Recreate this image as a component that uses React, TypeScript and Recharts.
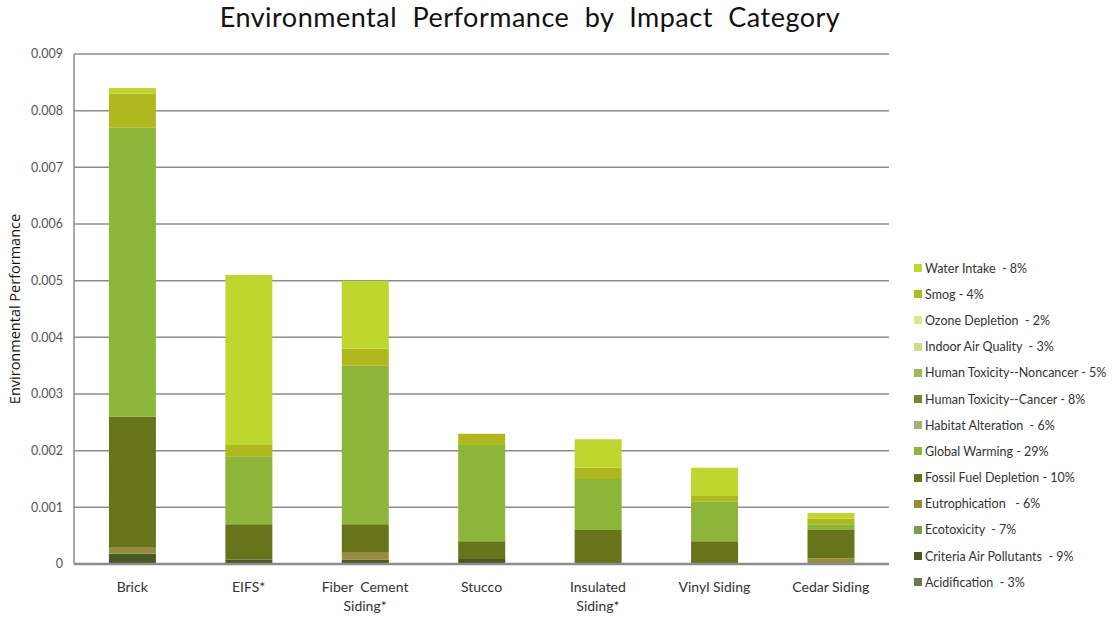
import React from 'react';
import { BarChart, Bar, XAxis, YAxis, CartesianGrid } from 'recharts';

const categories = ['Brick', 'EIFS*', 'Fiber Cement Siding*', 'Stucco', 'Insulated Siding*', 'Vinyl Siding', 'Cedar Siding'];
const tickLines = [['Brick'], ['EIFS*'], ['Fiber  Cement', 'Siding*'], ['Stucco'], ['Insulated', 'Siding*'], ['Vinyl Siding'], ['Cedar Siding']];
const yTicks = [0, 0.001, 0.002, 0.003, 0.004, 0.005, 0.006, 0.007, 0.008, 0.009];

// series values, in category order
const acidification = [0, 0, 0, 0, 0, 0, 0];
const criteriaAirPollutants = [0.00018, 0.00008, 0.00008, 0.00009, 0, 0, 0];
const ecotoxicity = [0, 0, 0, 0, 0, 0, 0];
const eutrophication = [0.00012, 0, 0.00012, 0, 0, 0, 0.0001];
const fossilFuelDepletion = [0.0023, 0.00062, 0.0005, 0.00031, 0.0006, 0.0004, 0.0005];
const globalWarming = [0.0051, 0.0012, 0.0028, 0.0017, 0.0009, 0.0007, 0.0001];
const habitatAlteration = [0, 0, 0, 0, 0, 0, 0];
const humanToxCancer = [0, 0, 0, 0, 0, 0, 0];
const humanToxNoncancer = [0, 0, 0, 0, 0, 0, 0];
const indoorAirQuality = [0, 0, 0, 0, 0, 0, 0];
const ozoneDepletion = [0, 0, 0, 0, 0, 0, 0];
const smog = [0.0006, 0.0002, 0.0003, 0.0002, 0.0002, 0.0001, 0.0001];
const waterIntake = [0.0001, 0.003, 0.0012, 0, 0.0005, 0.0005, 0.0001];

const series = [
  { key: 'acid', name: 'Acidification  - 3%', values: acidification, color: '#6a7a4c' },
  { key: 'crit', name: 'Criteria Air Pollutants  - 9%', values: criteriaAirPollutants, color: '#465a26' },
  { key: 'eco', name: 'Ecotoxicity  - 7%', values: ecotoxicity, color: '#7f9e48' },
  { key: 'eut', name: 'Eutrophication   - 6%', values: eutrophication, color: '#978b3f' },
  { key: 'ffd', name: 'Fossil Fuel Depletion - 10%', values: fossilFuelDepletion, color: '#687419' },
  { key: 'gw', name: 'Global Warming - 29%', values: globalWarming, color: '#8db53a' },
  { key: 'hab', name: 'Habitat Alteration  - 6%', values: habitatAlteration, color: '#a8ae78' },
  { key: 'htc', name: 'Human Toxicity--Cancer - 8%', values: humanToxCancer, color: '#6e8b2a' },
  { key: 'htn', name: 'Human Toxicity--Noncancer - 5%', values: humanToxNoncancer, color: '#9dbb5a' },
  { key: 'iaq', name: 'Indoor Air Quality  - 3%', values: indoorAirQuality, color: '#d4d88a' },
  { key: 'ozo', name: 'Ozone Depletion  - 2%', values: ozoneDepletion, color: '#dde882' },
  { key: 'smog', name: 'Smog - 4%', values: smog, color: '#b0b820' },
  { key: 'water', name: 'Water Intake  - 8%', values: waterIntake, color: '#bfd530' },
];

const data = categories.map((c, i) => {
  const row: any = { category: c, idx: i };
  series.forEach((s) => { row[s.key] = s.values[i]; });
  return row;
});

const FONT = 'Lato, "Open Sans", sans-serif';

const XTick = (props: any) => {
  const { x, y, index } = props;
  const lines = tickLines[index] || [];
  return (
    <text x={x} y={y + 20} textAnchor="middle" fill="#333" fontSize={14} fontFamily={FONT} style={{ whiteSpace: 'pre' }}>
      {lines.map((l, i) => (
        <tspan key={i} x={x} dy={i === 0 ? 0 : 19}>{l}</tspan>
      ))}
    </text>
  );
};

export default function App() {
  const legendItems = [...series].reverse();
  return (
    <div style={{ position: 'absolute', left: 0, top: 0, width: 1113, height: 619, background: '#fff' }}>
      <div style={{ position: 'absolute', left: 0, top: 0, width: 1060, textAlign: 'center', fontFamily: FONT, fontSize: 27, color: '#111', wordSpacing: 8, letterSpacing: 0.5 }}>
        Environmental Performance by Impact Category
      </div>
      <BarChart
        width={1113}
        height={619}
        data={data}
        margin={{ top: 54, right: 224, left: 14, bottom: 5 }}
        barCategoryGap="30%"
      >
        <CartesianGrid vertical={false} stroke="#8c8c8c" strokeWidth={1.5} />
        <XAxis
          dataKey="category"
          tickLine={false}
          axisLine={{ stroke: '#8c8c8c', strokeWidth: 2.5 }}
          tick={<XTick />}
          interval={0}
          height={50}
        />
        <YAxis
          domain={[0, 0.009]}
          ticks={yTicks}
          tickLine={false}
          axisLine={{ stroke: '#8c8c8c', strokeWidth: 1.5 }}
          width={60}
          tick={{ fill: '#555', fontSize: 12.5, fontFamily: FONT, dx: -3 }}
          tickFormatter={(v: number) => (v === 0 ? '0' : v.toFixed(3))}
          label={{ value: 'Environmental Performance', angle: -90, position: 'insideLeft', offset: 1, style: { textAnchor: 'middle', fontSize: 14.5, fontFamily: '"Open Sans", sans-serif', fill: '#111' } }}
        />
        {series.map((s) => (
          <Bar key={s.key} dataKey={s.key} name={s.name} stackId="a" fill={s.color} isAnimationActive={false} />
        ))}
      </BarChart>
      <div style={{ position: 'absolute', left: 914, top: 255, fontFamily: FONT, fontSize: 12.5, color: '#333' }}>
        {legendItems.map((s) => (
          <div key={s.key} style={{ height: 26.2, display: 'flex', alignItems: 'center', whiteSpace: 'pre' }}>
            <span style={{ display: 'inline-block', width: 8, height: 8, background: s.color, marginRight: 3 }} />
            <span>{s.name}</span>
          </div>
        ))}
      </div>
    </div>
  );
}
